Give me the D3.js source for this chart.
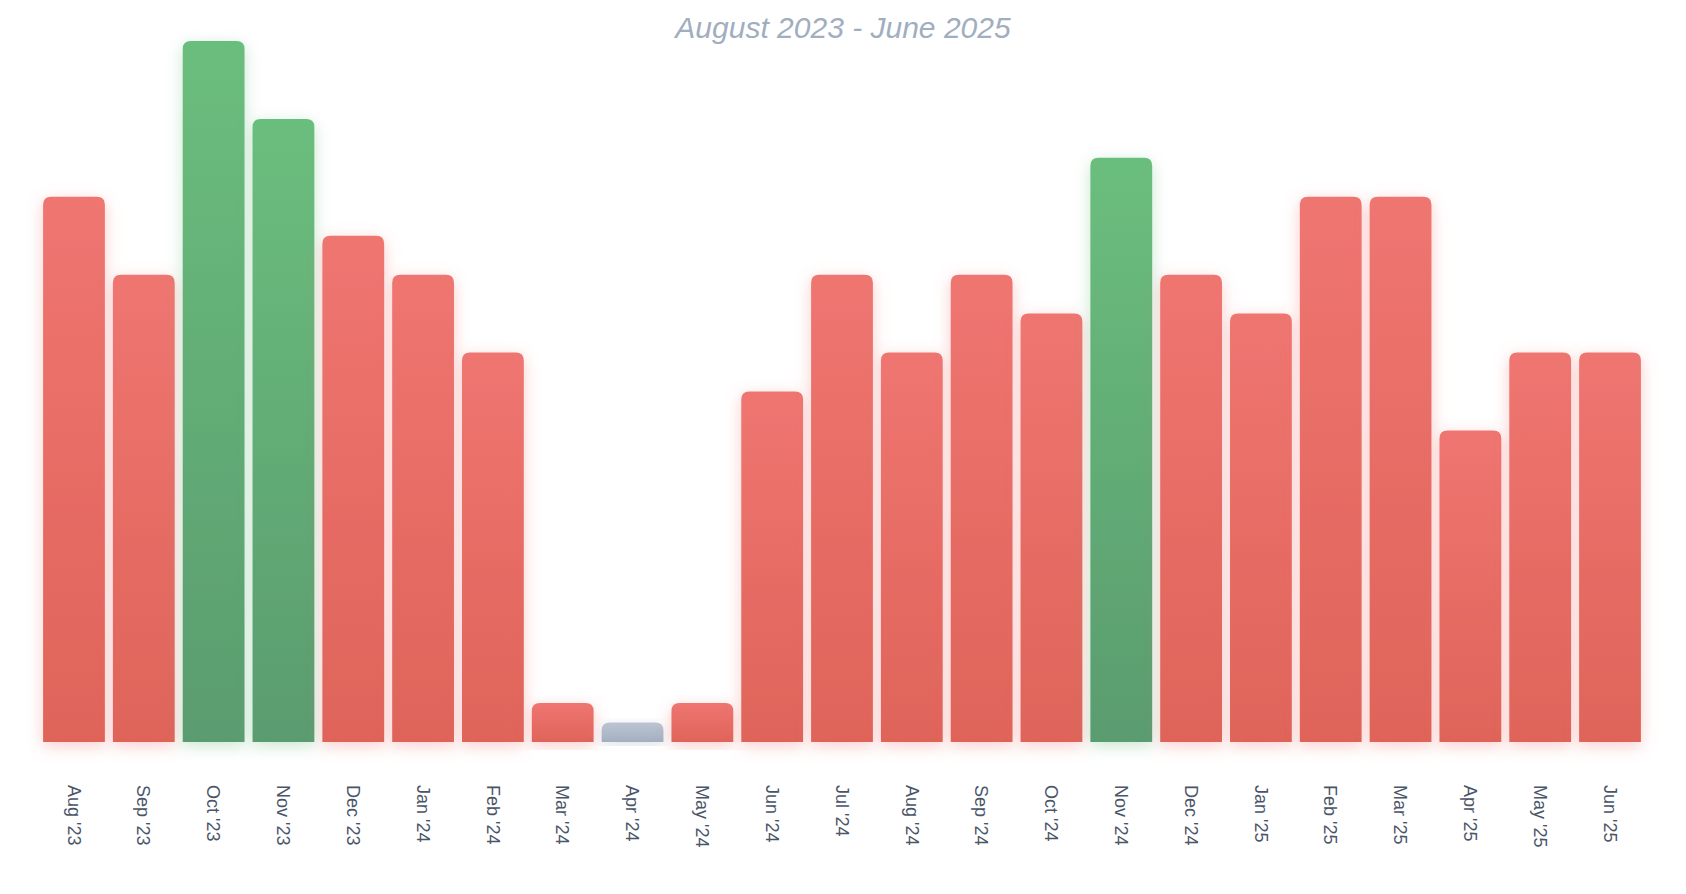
<!DOCTYPE html><html><head><meta charset="utf-8"><script src="https://cdn.jsdelivr.net/npm/d3@7"></script>
<style>body{margin:0;background:#fff}svg{display:block}</style></head><body><svg id="c" width="1686" height="894"></svg>
<script>
const months=["Aug '23","Sep '23","Oct '23","Nov '23","Dec '23","Jan '24","Feb '24","Mar '24","Apr '24","May '24","Jun '24","Jul '24","Aug '24","Sep '24","Oct '24","Nov '24","Dec '24","Jan '25","Feb '25","Mar '25","Apr '25","May '25","Jun '25"];
const values=[14,12,18,16,13,12,10,1,0.5,1,9,12,10,12,11,15,12,11,14,14,8,10,10];
const status=["red","red","green","green","red","red","red","red","grey","red","red","red","red","red","red","green","red","red","red","red","red","red","red"];
const title="August 2023 - June 2025";
const svg=d3.select("#c");
const defs=svg.append("defs");
const grads={red:["#ef7571","#df6459"],green:["#6bbe7d","#5a9c6f"],grey:["#bcc5d2","#a3afc1"]};
const glow={red:"rgba(240,110,105,0.35)",green:"rgba(100,185,120,0.35)",grey:"rgba(160,174,192,0.35)"};
Object.entries(grads).forEach(([k,c])=>{const g=defs.append("linearGradient").attr("id","g-"+k).attr("x1",0).attr("x2",0).attr("y1",0).attr("y2",1);
g.append("stop").attr("offset","0%").attr("stop-color",c[0]);g.append("stop").attr("offset","100%").attr("stop-color",c[1]);
const f=defs.append("filter").attr("id","f-"+k).attr("x","-50%").attr("y","-20%").attr("width","200%").attr("height","140%");
f.append("feDropShadow").attr("dx",0).attr("dy",4).attr("stdDeviation",8).attr("flood-color",glow[k]);});
const x=d3.scaleBand().domain(months).range([41,1643]).paddingInner(0.115).paddingOuter(0.03);
const y=d3.scaleLinear().domain([0,18]).range([742,41]);
svg.append("text").attr("x",843).attr("y",38).attr("text-anchor","middle").attr("font-family","Helvetica, Arial, sans-serif").attr("font-style","italic").attr("font-size",30).attr("fill","#a0aec0").text(title);
const r=8;
svg.selectAll("path.bar").data(months).join("path").attr("class","bar")
 .attr("fill",(d,i)=>`url(#g-${status[i]})`).attr("filter",(d,i)=>`url(#f-${status[i]})`)
 .attr("d",(d,i)=>{const x0=x(d),w=x.bandwidth(),y0=y(values[i]),b=y(0);const rr=Math.min(r,(b-y0));
  return `M${x0},${b}V${y0+rr}Q${x0},${y0} ${x0+rr},${y0}H${x0+w-rr}Q${x0+w},${y0} ${x0+w},${y0+rr}V${b}Z`;});
svg.selectAll("text.lab").data(months).join("text").attr("class","lab")
 .attr("transform",d=>`translate(${x(d)+x.bandwidth()/2},785) rotate(90)`)
 .attr("dy","0.35em").attr("font-family","Helvetica, Arial, sans-serif").attr("font-size",18).attr("fill","#4a5568").text(d=>d);
</script></body></html>
